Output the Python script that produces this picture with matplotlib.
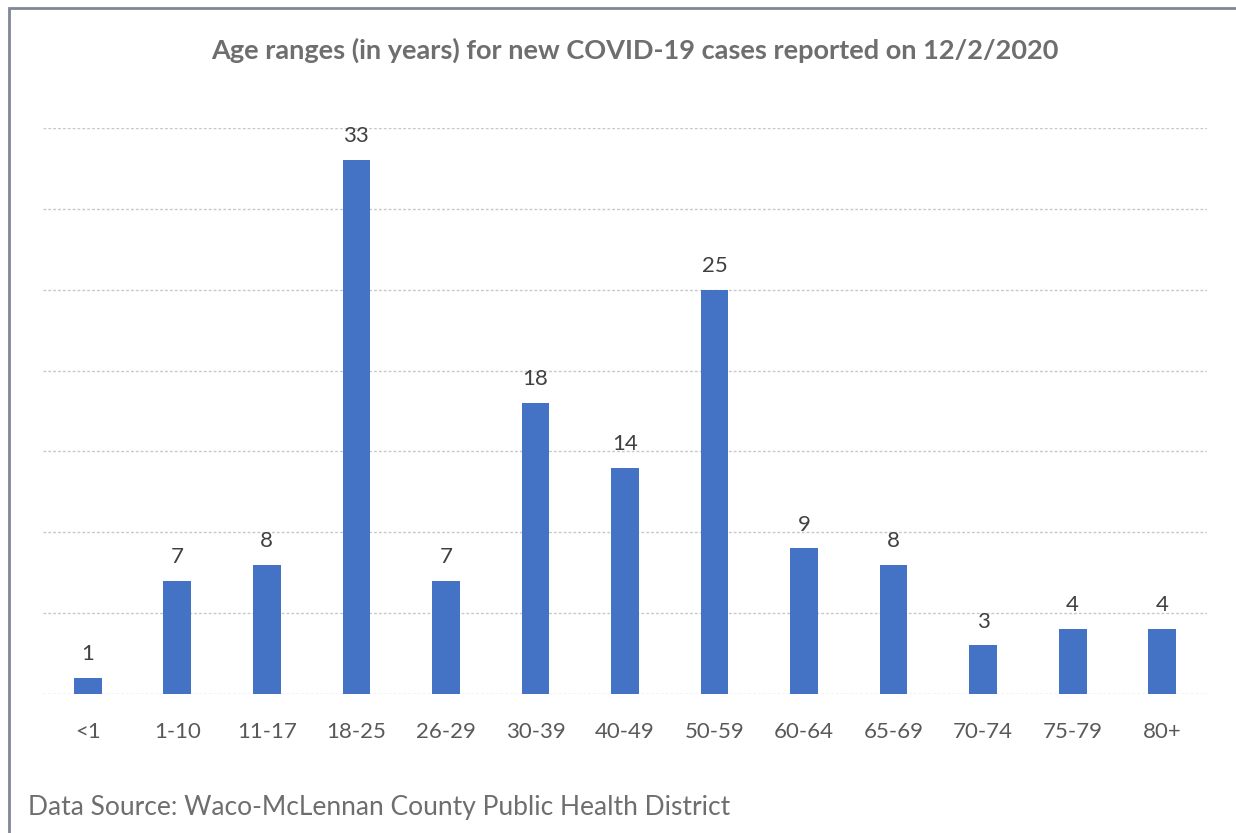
import matplotlib.pyplot as plt
from matplotlib.patches import Rectangle

age_groups = ["<1", "1-10", "11-17", "18-25", "26-29", "30-39", "40-49",
              "50-59", "60-64", "65-69", "70-74", "75-79", "80+"]
new_cases = [1, 7, 8, 33, 7, 18, 14, 25, 9, 8, 3, 4, 4]
y_ticks = [0, 5, 10, 15, 20, 25, 30, 35]

TITLE = "Age ranges (in years) for new COVID-19 cases reported on 12/2/2020"
SOURCE = "Data Source: Waco-McLennan County Public Health District"

plt.rcParams["font.family"] = ["Lato", "DejaVu Sans"]

W, H = 1236, 833
fig = plt.figure(figsize=(W / 100, H / 100), dpi=100)
ax = fig.add_axes([43 / W, 139 / H, 1164 / W, 566 / H])

x = list(range(len(age_groups)))
bars = ax.bar(x, new_cases, width=0.31, color="#4472C4", zorder=3)
ax.bar_label(bars, labels=[str(v) for v in new_cases], padding=10,
             fontsize=16, color="#404040")

ax.set_xlim(-0.5, len(age_groups) - 0.5)
ax.set_ylim(0, 35)
ax.set_yticks(y_ticks)
ax.set_yticklabels([])
ax.set_xticks(x)
ax.set_xticklabels(age_groups, fontsize=16, color="#595959")
ax.tick_params(axis="x", length=0, pad=20)
ax.tick_params(axis="y", length=0)
ax.grid(axis="y", color="#c8c8c8", linestyle=(0, (2, 1.5)), linewidth=1, zorder=0)
for s in ax.spines.values():
    s.set_visible(False)

fig.text(635 / W, 1 - 50 / H, TITLE, ha="center", va="center",
         fontsize=19.5, fontweight="bold", color="#6e6e6e")
fig.text(28 / W, 1 - 807 / H, SOURCE, ha="left", va="center",
         fontsize=19, color="#6e6e6e")

# frame around the chart (only top and left edges visible in the crop)
fig.patches.append(Rectangle((9 / W, -0.1), 1.2, 1 - 8 / H + 0.1,
                             transform=fig.transFigure, fill=False,
                             edgecolor="#7f8896", linewidth=2))

fig.savefig("out.png", dpi=100)
